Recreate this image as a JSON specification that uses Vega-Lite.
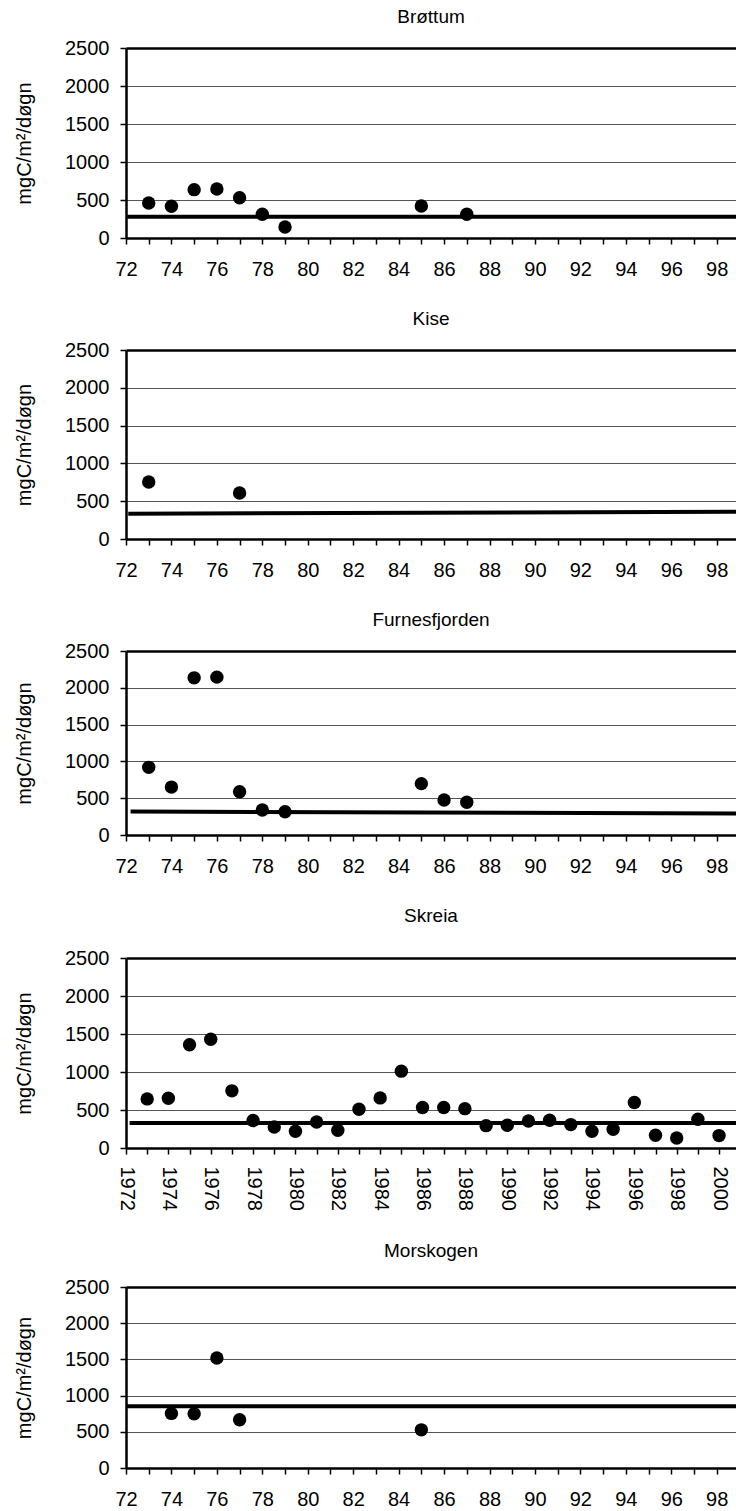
{
  "$schema": "https://vega.github.io/schema/vega-lite/v6.json",
  "padding": {"left": 14, "top": 8, "right": 0, "bottom": 0},
  "background": "white",
  "spacing": 31,
  "datasets": {
    "points": [
      {"station": "Brøttum", "year": 73, "value": 460},
      {"station": "Brøttum", "year": 74, "value": 417},
      {"station": "Brøttum", "year": 75, "value": 636},
      {"station": "Brøttum", "year": 76, "value": 645},
      {"station": "Brøttum", "year": 77, "value": 530},
      {"station": "Brøttum", "year": 78, "value": 312},
      {"station": "Brøttum", "year": 79, "value": 145},
      {"station": "Brøttum", "year": 85, "value": 421},
      {"station": "Brøttum", "year": 87, "value": 312},
      {"station": "Kise", "year": 73, "value": 754},
      {"station": "Kise", "year": 77, "value": 608},
      {"station": "Furnesfjorden", "year": 73, "value": 919},
      {"station": "Furnesfjorden", "year": 74, "value": 651},
      {"station": "Furnesfjorden", "year": 75, "value": 2135},
      {"station": "Furnesfjorden", "year": 76, "value": 2145},
      {"station": "Furnesfjorden", "year": 77, "value": 587},
      {"station": "Furnesfjorden", "year": 78, "value": 340},
      {"station": "Furnesfjorden", "year": 79, "value": 317},
      {"station": "Furnesfjorden", "year": 85, "value": 698},
      {"station": "Furnesfjorden", "year": 86, "value": 476},
      {"station": "Furnesfjorden", "year": 87, "value": 444},
      {"station": "Skreia", "year": 1973, "value": 646},
      {"station": "Skreia", "year": 1974, "value": 655},
      {"station": "Skreia", "year": 1975, "value": 1358},
      {"station": "Skreia", "year": 1976, "value": 1430},
      {"station": "Skreia", "year": 1977, "value": 752},
      {"station": "Skreia", "year": 1978, "value": 361},
      {"station": "Skreia", "year": 1979, "value": 277},
      {"station": "Skreia", "year": 1980, "value": 220},
      {"station": "Skreia", "year": 1981, "value": 343},
      {"station": "Skreia", "year": 1982, "value": 233},
      {"station": "Skreia", "year": 1983, "value": 510},
      {"station": "Skreia", "year": 1984, "value": 659},
      {"station": "Skreia", "year": 1985, "value": 1011},
      {"station": "Skreia", "year": 1986, "value": 532},
      {"station": "Skreia", "year": 1987, "value": 532},
      {"station": "Skreia", "year": 1988, "value": 518},
      {"station": "Skreia", "year": 1989, "value": 294},
      {"station": "Skreia", "year": 1990, "value": 299},
      {"station": "Skreia", "year": 1991, "value": 356},
      {"station": "Skreia", "year": 1992, "value": 365},
      {"station": "Skreia", "year": 1993, "value": 308},
      {"station": "Skreia", "year": 1994, "value": 220},
      {"station": "Skreia", "year": 1995, "value": 246},
      {"station": "Skreia", "year": 1996, "value": 598},
      {"station": "Skreia", "year": 1997, "value": 167},
      {"station": "Skreia", "year": 1998, "value": 132},
      {"station": "Skreia", "year": 1999, "value": 378},
      {"station": "Skreia", "year": 2000, "value": 163},
      {"station": "Morskogen", "year": 74, "value": 754},
      {"station": "Morskogen", "year": 75, "value": 750},
      {"station": "Morskogen", "year": 76, "value": 1519},
      {"station": "Morskogen", "year": 77, "value": 667},
      {"station": "Morskogen", "year": 85, "value": 527}
    ],
    "lines": [
      {"station": "Brøttum", "year": 72.05, "value": 278},
      {"station": "Brøttum", "year": 99, "value": 278},
      {"station": "Kise", "year": 72.1, "value": 333},
      {"station": "Kise", "year": 99, "value": 362},
      {"station": "Furnesfjorden", "year": 72.2, "value": 318},
      {"station": "Furnesfjorden", "year": 99, "value": 292},
      {"station": "Skreia", "year": 1972.17, "value": 330},
      {"station": "Skreia", "year": 2001, "value": 330},
      {"station": "Morskogen", "year": 72, "value": 853},
      {"station": "Morskogen", "year": 99, "value": 853}
    ]
  },
  "vconcat": [
    {
      "title": {"text": "Brøttum", "offset": 11},
      "width": 610, "height": 190,
      "encoding": {
        "x": {"field": "year", "type": "quantitative", "scale": {"domain": [72, 98.85], "nice": false, "zero": false},
              "axis": {"values": [72,73,74,75,76,77,78,79,80,81,82,83,84,85,86,87,88,89,90,91,92,93,94,95,96,97,98], "labelExpr": "datum.value % 2 == 0 ? datum.label : ''"}},
        "y": {"field": "value", "type": "quantitative", "scale": {"domain": [0, 2500], "nice": false},
              "axis": {"title": "mgC/m²/døgn", "values": [0, 500, 1000, 1500, 2000, 2500], "format": "d"}}
      },
      "layer": [
        {"data": {"name": "lines"}, "transform": [{"filter": "datum.station == 'Brøttum'"}], "mark": {"type": "line", "color": "#000", "strokeWidth": 4, "clip": true}},
        {"data": {"name": "points"}, "transform": [{"filter": "datum.station == 'Brøttum'"}], "mark": {"type": "circle", "size": 180, "color": "#000", "opacity": 1}}
      ]
    },
    {
      "title": {"text": "Kise", "offset": 11},
      "width": 610, "height": 189,
      "encoding": {
        "x": {"field": "year", "type": "quantitative", "scale": {"domain": [72, 98.85], "nice": false, "zero": false},
              "axis": {"values": [72,73,74,75,76,77,78,79,80,81,82,83,84,85,86,87,88,89,90,91,92,93,94,95,96,97,98], "labelExpr": "datum.value % 2 == 0 ? datum.label : ''"}},
        "y": {"field": "value", "type": "quantitative", "scale": {"domain": [0, 2500], "nice": false},
              "axis": {"title": "mgC/m²/døgn", "values": [0, 500, 1000, 1500, 2000, 2500], "format": "d"}}
      },
      "layer": [
        {"data": {"name": "lines"}, "transform": [{"filter": "datum.station == 'Kise'"}], "mark": {"type": "line", "color": "#000", "strokeWidth": 4, "clip": true}},
        {"data": {"name": "points"}, "transform": [{"filter": "datum.station == 'Kise'"}], "mark": {"type": "circle", "size": 180, "color": "#000", "opacity": 1}}
      ]
    },
    {
      "title": {"text": "Furnesfjorden", "offset": 11},
      "width": 610, "height": 184,
      "encoding": {
        "x": {"field": "year", "type": "quantitative", "scale": {"domain": [72, 98.85], "nice": false, "zero": false},
              "axis": {"values": [72,73,74,75,76,77,78,79,80,81,82,83,84,85,86,87,88,89,90,91,92,93,94,95,96,97,98], "labelExpr": "datum.value % 2 == 0 ? datum.label : ''"}},
        "y": {"field": "value", "type": "quantitative", "scale": {"domain": [0, 2500], "nice": false},
              "axis": {"title": "mgC/m²/døgn", "values": [0, 500, 1000, 1500, 2000, 2500], "format": "d"}}
      },
      "layer": [
        {"data": {"name": "lines"}, "transform": [{"filter": "datum.station == 'Furnesfjorden'"}], "mark": {"type": "line", "color": "#000", "strokeWidth": 4, "clip": true}},
        {"data": {"name": "points"}, "transform": [{"filter": "datum.station == 'Furnesfjorden'"}], "mark": {"type": "circle", "size": 180, "color": "#000", "opacity": 1}}
      ]
    },
    {
      "title": {"text": "Skreia", "offset": 22},
      "width": 610, "height": 190,
      "encoding": {
        "x": {"field": "year", "type": "quantitative", "scale": {"domain": [1972, 2000.8], "nice": false, "zero": false},
              "axis": {"values": [1972,1973,1974,1975,1976,1977,1978,1979,1980,1981,1982,1983,1984,1985,1986,1987,1988,1989,1990,1991,1992,1993,1994,1995,1996,1997,1998,1999,2000], "format": "d", "labelAngle": 90, "labelAlign": "left", "labelBaseline": "middle", "labelPadding": 12, "labelExpr": "datum.value % 2 == 0 ? datum.label : ''"}},
        "y": {"field": "value", "type": "quantitative", "scale": {"domain": [0, 2500], "nice": false},
              "axis": {"title": "mgC/m²/døgn", "values": [0, 500, 1000, 1500, 2000, 2500], "format": "d"}}
      },
      "layer": [
        {"data": {"name": "lines"}, "transform": [{"filter": "datum.station == 'Skreia'"}], "mark": {"type": "line", "color": "#000", "strokeWidth": 4, "clip": true}},
        {"data": {"name": "points"}, "transform": [{"filter": "datum.station == 'Skreia'"}], "mark": {"type": "circle", "size": 180, "color": "#000", "opacity": 1}}
      ]
    },
    {
      "title": {"text": "Morskogen", "offset": 16},
      "width": 610, "height": 181,
      "encoding": {
        "x": {"field": "year", "type": "quantitative", "scale": {"domain": [72, 98.85], "nice": false, "zero": false},
              "axis": {"values": [72,73,74,75,76,77,78,79,80,81,82,83,84,85,86,87,88,89,90,91,92,93,94,95,96,97,98], "labelExpr": "datum.value % 2 == 0 ? datum.label : ''"}},
        "y": {"field": "value", "type": "quantitative", "scale": {"domain": [0, 2500], "nice": false},
              "axis": {"title": "mgC/m²/døgn", "values": [0, 500, 1000, 1500, 2000, 2500], "format": "d"}}
      },
      "layer": [
        {"data": {"name": "lines"}, "transform": [{"filter": "datum.station == 'Morskogen'"}], "mark": {"type": "line", "color": "#000", "strokeWidth": 4, "clip": true}},
        {"data": {"name": "points"}, "transform": [{"filter": "datum.station == 'Morskogen'"}], "mark": {"type": "circle", "size": 180, "color": "#000", "opacity": 1}}
      ]
    }
  ],
  "config": {
    "font": "Liberation Sans",
    "view": {"stroke": null},
    "title": {"fontSize": 19, "fontWeight": "normal", "color": "#000", "anchor": "middle", "font": "Liberation Sans"},
    "axis": {
      "labelFont": "Liberation Sans", "titleFont": "Liberation Sans",
      "labelFontSize": 20, "titleFontSize": 20, "titleFontWeight": "normal",
      "labelColor": "#000", "titleColor": "#000",
      "domainColor": "#000", "domainWidth": 2.5,
      "tickColor": "#000", "tickWidth": 1.5, "tickSize": 6,
      "labelOverlap": false, "labelFlush": false
    },
    "axisX": {"grid": false, "title": null, "labelPadding": 15},
    "axisY": {
      "titlePadding": 30, "labelPadding": 11,
      "grid": true,
      "gridColor": {"condition": {"test": "datum.value === 2500", "value": "#000"}, "value": "#555"},
      "gridWidth": {"condition": {"test": "datum.value === 2500", "value": 2.5}, "value": 1}
    }
  }
}
